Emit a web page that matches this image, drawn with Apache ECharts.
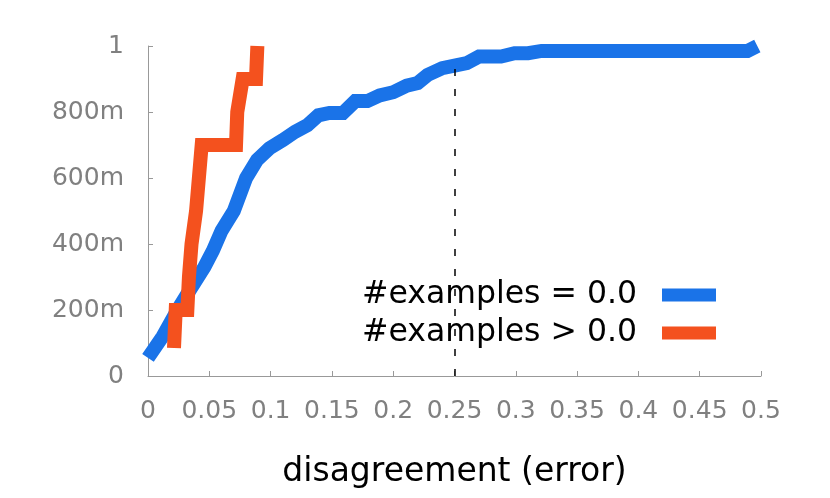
<!DOCTYPE html>
<html>
<head>
    <meta charset="utf-8">
    <title>disagreement</title>
    <script src="https://cdn.jsdelivr.net/npm/echarts@6/dist/echarts.min.js"></script>
</head>
<body style="margin:0">
<div id="main" style="width: 830px;height:498px;"></div>
<script type="text/javascript">
    // cumulative share vs disagreement
    var zeroX = [0, 0.012, 0.024, 0.034, 0.046, 0.053, 0.060, 0.070, 0.080, 0.089, 0.099, 0.110, 0.120,
        0.130, 0.139, 0.148, 0.159, 0.169, 0.179, 0.189, 0.200, 0.211, 0.220, 0.228, 0.240, 0.252,
        0.260, 0.270, 0.288, 0.299, 0.310, 0.321, 0.489, 0.497];
    var zeroY = [0.055, 0.12, 0.20, 0.26, 0.33, 0.38, 0.44, 0.50, 0.60, 0.655, 0.69, 0.715, 0.74,
        0.76, 0.79, 0.797, 0.797, 0.833, 0.833, 0.85, 0.86, 0.88, 0.888, 0.912, 0.933, 0.942,
        0.948, 0.968, 0.968, 0.978, 0.978, 0.985, 0.985, 1.0];
    var moreX = [0.0212, 0.0226, 0.0321, 0.0334, 0.0343, 0.0355, 0.0365, 0.0392, 0.0400, 0.0438,
        0.0718, 0.0728, 0.0742, 0.0772, 0.0881, 0.0892];
    var moreY = [0.085, 0.2, 0.2, 0.3, 0.3, 0.4, 0.4, 0.5, 0.5, 0.7,
        0.7, 0.8, 0.8, 0.9, 0.9, 1.0];
    var names = ['#examples = 0.0', '#examples > 0.0'];
    var markX = 0.25;
    var markTop = 0.965;

    function pairs(xs, ys) {
        return xs.map(function (x, i) { return [x, ys[i]]; });
    }

    var font = 'DejaVu Sans';
    var myChart = echarts.init(document.getElementById('main'), null, {renderer: 'canvas'});

    var option = {
        animation: false,
        grid: {left: 148, right: 69, top: 46, bottom: 122},
        legend: {
            data: names,
            orient: 'vertical',
            right: 114,
            top: 279,
            padding: 0,
            align: 'right',
            icon: 'rect',
            itemWidth: 54,
            itemHeight: 13,
            itemGap: 6,
            textStyle: {fontFamily: font, fontSize: 31.5, color: '#000', padding: [0, 20, 0, 0]}
        },
        xAxis: {
            type: 'value',
            min: 0,
            max: 0.5,
            interval: 0.05,
            name: 'disagreement (error)',
            nameLocation: 'middle',
            nameGap: 80,
            nameTextStyle: {fontFamily: font, fontSize: 33, color: '#000'},
            axisLine: {lineStyle: {color: '#999', width: 1}},
            axisTick: {inside: true, length: 5, lineStyle: {color: '#999'}},
            splitLine: {show: false},
            axisLabel: {
                margin: 23,
                fontFamily: font,
                fontSize: 25,
                color: '#808080',
                formatter: function (v) { return String(+v.toFixed(2)); }
            }
        },
        yAxis: {
            type: 'value',
            min: 0,
            max: 1,
            interval: 0.2,
            axisLine: {show: true, lineStyle: {color: '#999', width: 1}},
            axisTick: {show: true, inside: true, length: 5, lineStyle: {color: '#999'}},
            splitLine: {show: false},
            axisLabel: {
                margin: 24,
                fontFamily: font,
                fontSize: 25,
                color: '#808080',
                formatter: function (v) {
                    if (v === 0) return '0';
                    if (v === 1) return '1';
                    return Math.round(v * 1000) + 'm';
                }
            }
        },
        series: [
            {
                name: names[0],
                type: 'line',
                showSymbol: false,
                color: '#1a73e8',
                lineStyle: {width: 14, cap: 'butt', join: 'miter'},
                data: pairs(zeroX, zeroY)
            },
            {
                name: names[1],
                type: 'line',
                showSymbol: false,
                color: '#f4511e',
                lineStyle: {width: 14, cap: 'butt', join: 'miter'},
                data: pairs(moreX, moreY),
                markLine: {
                    silent: true,
                    symbol: 'none',
                    label: {show: false},
                    lineStyle: {color: '#000', width: 1.5, type: [7, 13]},
                    data: [[{coord: [markX, 0]}, {coord: [markX, markTop]}]]
                }
            }
        ]
    };

    myChart.setOption(option);
</script>
</body>
</html>
